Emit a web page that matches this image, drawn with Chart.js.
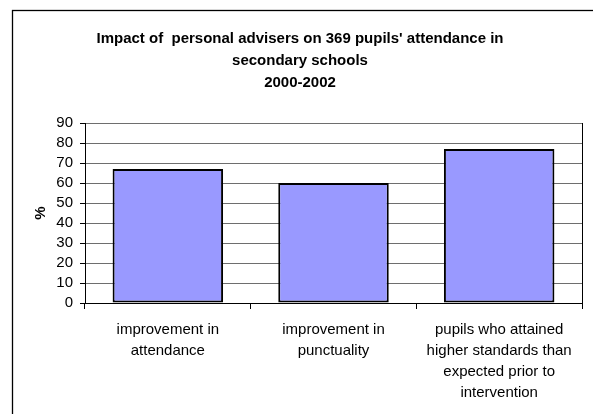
<!DOCTYPE html>
<html>
<head>
<meta charset="utf-8">
<script src="https://cdn.jsdelivr.net/npm/chart.js@4/dist/chart.umd.min.js"></script>
<style>
  body { margin: 0; background: #fff; }
  #wrap { width: 593px; height: 414px; position: relative; }
</style>
</head>
<body>
<div id="wrap"><canvas id="chartCanvas" width="593" height="414"></canvas></div>
<script>
const TITULO = [
  "Impact of  personal advisers on 369 pupils' attendance in",
  "secondary schools",
  "2000-2002"
];
const CATEGORIAS = [
  ["improvement in", "attendance"],
  ["improvement in", "punctuality"],
  ["pupils who attained", "higher standards than", "expected prior to", "intervention"]
];
const VALORES = [67, 60, 77];
const Y_MAX = 90;
const Y_PASSO = 10;

const FONTE = "'Liberation Sans', Arial, sans-serif";

// moldura exterior e título por cima de tudo
const moldura = {
  id: "moldura",
  beforeDraw: function(chart) {
    const c = chart.ctx;
    c.save();
    c.fillStyle = "#fff";
    c.fillRect(0, 0, chart.width, chart.height);
    c.strokeStyle = "#000";
    c.lineWidth = 1.3;
    c.strokeRect(12.5, 10.5, 640, 500);
    c.restore();
  },
  afterDraw: function(chart) {
    const c = chart.ctx;
    const a = chart.chartArea;
    c.save();
    // borda direita da área do gráfico
    c.strokeStyle = "#000";
    c.lineWidth = 1;
    c.beginPath();
    c.moveTo(Math.round(a.right) + 0.5, a.top);
    c.lineTo(Math.round(a.right) + 0.5, a.bottom);
    c.stroke();
    c.fillStyle = "#000";
    c.font = "bold 15px " + FONTE;
    c.textAlign = "center";
    c.textBaseline = "middle";
    TITULO.forEach(function(linha, i) {
      c.fillText(linha, 300, 38.5 + i * 22);
    });
    c.restore();
  }
};

new Chart(document.getElementById("chartCanvas"), {
  type: "bar",
  data: {
    labels: CATEGORIAS,
    datasets: [{
      data: VALORES,
      backgroundColor: "#9999ff",
      borderColor: "#000",
      borderWidth: 2,
      borderSkipped: false,
      barPercentage: 0.667,
      categoryPercentage: 1
    }]
  },
  options: {
    responsive: false,
    animation: false,
    layout: { padding: { left: 0, top: 123, right: 11, bottom: 0 } },
    plugins: { legend: { display: false }, tooltip: { enabled: false } },
    scales: {
      x: {
        afterFit: function(s) { s.height = 111; },
        grid: { drawOnChartArea: false, drawTicks: true, tickLength: 6, tickColor: "#000", offset: true },
        border: { color: "#000", width: 1 },
        ticks: {
          color: "#000", autoSkip: false, maxRotation: 0, padding: 10,
          font: { family: FONTE, size: 15, lineHeight: 1.4 }
        }
      },
      y: {
        min: 0, max: Y_MAX,
        afterFit: function(s) { s.width = 85; },
        grid: { color: "#6e6e6e", tickColor: "#000", tickLength: 5 },
        border: { color: "#000", width: 1 },
        ticks: {
          stepSize: Y_PASSO, autoSkip: false, color: "#000", padding: 7,
          font: { family: FONTE, size: 15 }
        },
        title: {
          display: true, text: "%", color: "#000",
          font: { family: FONTE, size: 15, weight: "bold" },
          padding: { top: 32, bottom: 0 }
        }
      }
    }
  },
  plugins: [moldura]
});
</script>
</body>
</html>
